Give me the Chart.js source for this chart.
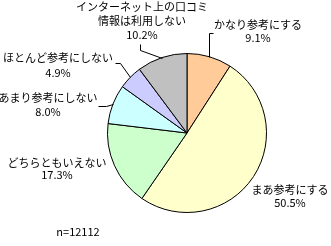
<!DOCTYPE html>
<html>
<head>
<meta charset="utf-8">
<script src="https://cdn.jsdelivr.net/npm/chart.js@4/dist/chart.umd.min.js"></script>
<style>
  html, body { margin: 0; padding: 0; background: #ffffff; }
  #wrap { width: 331px; height: 246px; }
</style>
</head>
<body>
<div id="wrap"><canvas id="c" width="331" height="246"></canvas></div>
<script>
// Survey answers: how much online word-of-mouth is used as a reference
const categories = [
  'かなり参考にする',
  'まあ参考にする',
  'どちらともいえない',
  'あまり参考にしない',
  'ほとんど参考にしない',
  'インターネット上の口コミ情報は利用しない'
];
const shares = [9.1, 50.5, 17.3, 8.0, 4.9, 10.2];
const valueLabels = ['9.1%', '50.5%', '17.3%', '8.0%', '4.9%', '10.2%'];
const sampleNote = 'n=12112';

// Display lines for each category label (long one wraps)
const labelLines = [
  ['かなり参考にする'],
  ['まあ参考にする'],
  ['どちらともいえない'],
  ['あまり参考にしない'],
  ['ほとんど参考にしない'],
  ['インターネット上の口コミ', '情報は利用しない']
];

const sliceColors = ['#FFCC99', '#FFFFCC', '#CCFFCC', '#CCFFFF', '#CCCCFF', '#C0C0C0'];

// Label placement: text centre x, first line y, line gap, and leader path (elbow, end) or null
const labelLayout = [
  { x: 258, y: 25, gap: 13, leader: [[209, 33], [213, 33]] },
  { x: 290, y: 190, gap: 13, leader: null },
  { x: 57,  y: 163, gap: 12, leader: null },
  { x: 48,  y: 98,  gap: 14, leader: [[106, 106], [98, 106]] },
  { x: 58,  y: 58,  gap: 15, leader: [[120, 63], [115, 63]] },
  { x: 142, y: 7,   gap: 14, leader: [[140, 50], [140, 44]] }
];

const FONT = '11px "Noto Sans CJK JP", "Noto Sans", sans-serif';

const outsideLabels = {
  id: 'outsideLabels',
  afterDraw(chart) {
    const ctx = chart.ctx;
    const meta = chart.getDatasetMeta(0);
    ctx.save();
    ctx.font = FONT;
    ctx.fillStyle = '#000000';
    ctx.strokeStyle = '#000000';
    ctx.lineWidth = 1;
    ctx.textAlign = 'center';
    ctx.textBaseline = 'middle';
    meta.data.forEach((arc, i) => {
      const p = arc.getProps(['x', 'y', 'startAngle', 'endAngle', 'outerRadius'], true);
      const mid = (p.startAngle + p.endAngle) / 2;
      const ex = p.x + Math.cos(mid) * p.outerRadius;
      const ey = p.y + Math.sin(mid) * p.outerRadius;
      const lay = labelLayout[i];
      if (lay.leader) {
        ctx.beginPath();
        ctx.moveTo(Math.round(ex) + 0.5, Math.round(ey) + 0.5);
        lay.leader.forEach(pt => ctx.lineTo(pt[0] + 0.5, pt[1] + 0.5));
        ctx.stroke();
      }
      const lines = labelLines[i].concat([valueLabels[i]]);
      lines.forEach((t, k) => ctx.fillText(t, lay.x, lay.y + k * lay.gap));
    });
    ctx.fillText(sampleNote, 78, 232);
    ctx.restore();
  }
};

const whiteBg = {
  id: 'whiteBg',
  beforeDraw(chart) {
    const ctx = chart.ctx;
    ctx.save();
    ctx.fillStyle = '#ffffff';
    ctx.fillRect(0, 0, chart.width, chart.height);
    ctx.restore();
  }
};

new Chart(document.getElementById('c'), {
  type: 'pie',
  data: {
    labels: categories,
    datasets: [{
      data: shares,
      backgroundColor: sliceColors,
      borderColor: '#000000',
      borderWidth: 1
    }]
  },
  options: {
    responsive: false,
    animation: false,
    devicePixelRatio: 1,
    rotation: 0,
    layout: { padding: { left: 107, right: 64, top: 53, bottom: 33 } },
    plugins: {
      legend: { display: false },
      tooltip: { enabled: false },
      title: { display: false }
    }
  },
  plugins: [whiteBg, outsideLabels]
});
</script>
</body>
</html>
